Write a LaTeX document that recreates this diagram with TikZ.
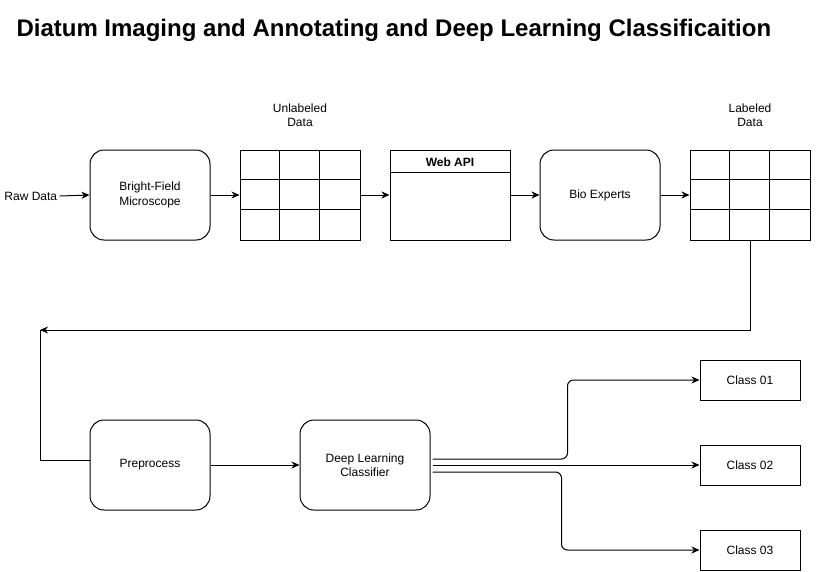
\documentclass[tikz,border=0pt]{standalone}
\usepackage{fontspec}
\setmainfont{Liberation Sans}
\usetikzlibrary{arrows.meta,calc}
\begin{document}
\begin{tikzpicture}[x=1pt,y=-1pt,line width=1pt,
  lbl/.style={font=\fontsize{12}{14.5}\selectfont,align=center,inner sep=2pt},
  rbox/.style={draw,rounded corners=14pt,minimum width=120pt,minimum height=90pt,align=center,inner sep=0pt,font=\fontsize{12}{14.5}\selectfont},
  sbox/.style={draw,minimum width=120pt,minimum height=90pt,inner sep=0pt},
  cbox/.style={draw,minimum width=100pt,minimum height=40pt,inner sep=0pt,font=\fontsize{12}{14.5}\selectfont},
  arr/.style={-{Stealth[length=8pt,width=7pt,inset=2.5pt]}}]
\useasboundingbox[fill=white] (0,0) rectangle (820,571);
% title
\node[anchor=west,inner sep=0pt,font=\bfseries\fontsize{24}{28}\selectfont] (title) at (16,30) {Diatum Imaging and Annotating and Deep Learning Classificaition};
% top row
\node[lbl,anchor=west] (raw) at (2,196) {Raw Data};
\node[rbox] (bf) at (150,195) {Bright-Field\\Microscope};
\node[sbox] (ul) at (300,195) {};
\foreach \i in {1,2} {
  \draw ($(ul.north west)+(40*\i,0)$) -- ($(ul.south west)+(40*\i,0)$);
  \draw ($(ul.north west)+(0,30*\i)$) -- ($(ul.north east)+(0,30*\i)$);
}
\node[lbl] (ultxt) at (300,115) {Unlabeled\\Data};
\node[sbox] (api) at (450,195) {};
\draw ($(api.north west)+(0,23)$) -- ($(api.north east)+(0,23)$);
\node[lbl,font=\bfseries\fontsize{12}{14.5}\selectfont] (apitxt) at (450,162) {Web API};
\node[rbox] (bio) at (600,195) {Bio Experts};
\node[sbox] (ld) at (750,195) {};
\foreach \i in {1,2} {
  \draw ($(ld.north west)+(40*\i,0)$) -- ($(ld.south west)+(40*\i,0)$);
  \draw ($(ld.north west)+(0,30*\i)$) -- ($(ld.north east)+(0,30*\i)$);
}
\node[lbl] (ldtxt) at (750,115) {Labeled\\Data};
% bottom row
\node[rbox] (pre) at (150,465) {Preprocess};
\node[rbox,minimum width=130pt] (dl) at (365,465) {Deep Learning\\Classifier};
\node[cbox] (c1) at (750,380) {Class 01};
\node[cbox] (c2) at (750,465) {Class 02};
\node[cbox] (c3) at (750,550) {Class 03};
\coordinate (turn) at (40,330);
% connectors
\draw[arr] (raw.east) -- (bf.west);
\draw[arr] (bf.east) -- (ul.west);
\draw[arr] (ul.east) -- (api.west);
\draw[arr] (api.east) -- (bio.west);
\draw[arr] (bio.east) -- (ld.west);
\draw[arr] (ld.south) |- (turn);
\draw (turn) |- ([yshift=5pt]pre.west);
\draw[arr] (pre.east) -- (dl.west);
\draw[arr,rounded corners=6pt] ([yshift=6pt,xshift=2pt]dl.east) -- ++(135,0) |- (c1.west);
\draw[arr] ([xshift=2pt]dl.east) -- (c2.west);
\draw[arr,rounded corners=6pt] ([yshift=-7pt,xshift=2pt]dl.east) -- ++(129,0) |- (c3.west);
\end{tikzpicture}
\end{document}
